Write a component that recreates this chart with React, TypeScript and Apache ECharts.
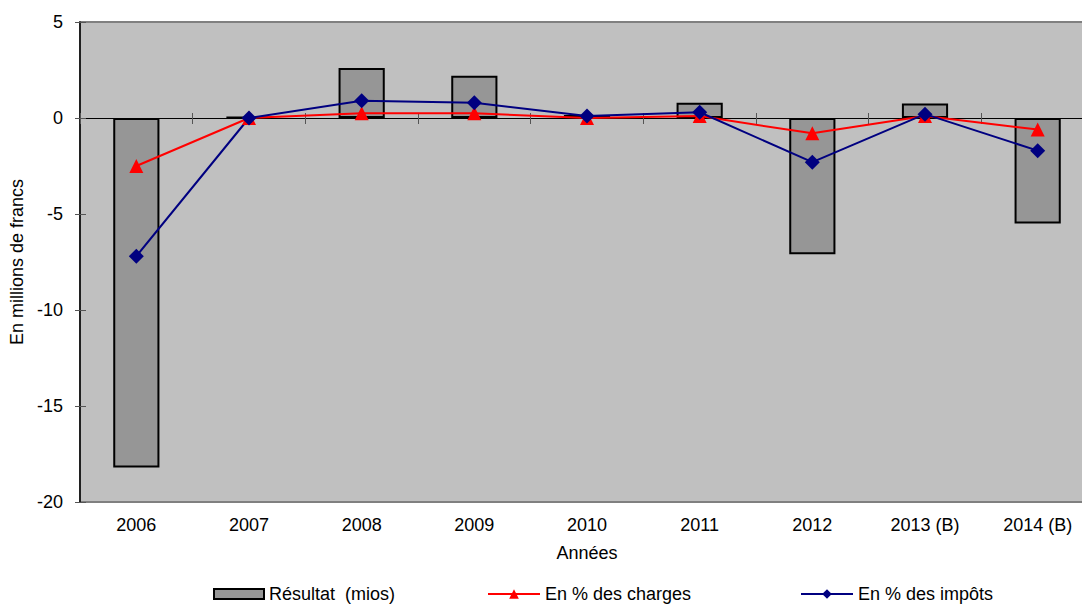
import React, { useEffect, useRef } from "react";
import * as echarts from "echarts";

const categories = ["2006", "2007", "2008", "2009", "2010", "2011", "2012", "2013 (B)", "2014 (B)"];
const resultat = [-18.2, 0.05, 2.6, 2.2, 0.15, 0.8, -7.1, 0.75, -5.5];
const pctCharges = [-2.5, 0, 0.25, 0.25, 0, 0.1, -0.8, 0.1, -0.6];
const pctImpots = [-7.2, 0, 0.9, 0.8, 0.1, 0.3, -2.3, 0.2, -1.7];
const yTicks = { min: -20, max: 5, interval: 5 };

const FONT = "'Liberation Sans', Arial, sans-serif";
const FS = 18;

export default function App() {
  const ref = useRef<HTMLDivElement>(null);
  useEffect(() => {
    if (!ref.current) return;
    const chart = echarts.init(ref.current, undefined, { renderer: "svg" });
    const legendText = { fontFamily: FONT, fontSize: FS, color: "#000" };
    const option: any = {
      animation: false,
      textStyle: { fontFamily: FONT },
      grid: {
        left: 80,
        right: -12,
        top: 22,
        bottom: 102,
        containLabel: false,
        outerBoundsMode: "none",
        show: true,
        backgroundColor: "#c0c0c0",
        borderColor: "#808080",
        borderWidth: 2,
      },
      legend: [
        { data: [{ name: "Résultat  (mios)", icon: "rect" }], left: 213, top: 585, itemWidth: 50, itemHeight: 10, itemGap: 0, textStyle: legendText, padding: 0 },
        { data: ["En % des charges"], left: 487, top: 585, itemWidth: 52, itemHeight: 12, itemGap: 0, textStyle: legendText, padding: 0 },
        { data: ["En % des impôts"], left: 800, top: 585, itemWidth: 52, itemHeight: 12, itemGap: 0, textStyle: legendText, padding: 0 },
      ],
      xAxis: [
        {
          type: "category",
          data: categories,
          position: "bottom",
          boundaryGap: true,
          axisLine: { onZero: false, show: false },
          axisTick: { show: false },
          axisLabel: { fontFamily: FONT, fontSize: FS, color: "#000", margin: 14 },
          name: "Années",
          nameLocation: "middle",
          nameGap: 42,
          nameTextStyle: { fontFamily: FONT, fontSize: FS, color: "#000" },
        },
        {
          type: "category",
          data: categories,
          position: "bottom",
          boundaryGap: true,
          axisLine: { onZero: true, onZeroAxisIndex: 0, lineStyle: { color: "#000", width: 1 } },
          axisTick: { show: true, length: 6, lineStyle: { color: "#555", width: 1 } },
          axisLabel: { show: false },
        },
        {
          type: "category",
          data: categories,
          position: "top",
          boundaryGap: true,
          axisLine: { onZero: true, onZeroAxisIndex: 0, lineStyle: { color: "#000", width: 1 } },
          axisTick: { show: true, length: 5, lineStyle: { color: "#555", width: 1 } },
          axisLabel: { show: false },
        },
      ],
      yAxis: [
        {
          type: "value",
          min: yTicks.min,
          max: yTicks.max,
          interval: yTicks.interval,
          position: "left",
          splitLine: { show: false },
          axisLine: { show: true, onZero: false, lineStyle: { color: "#000", width: 1.5 } },
          axisTick: { show: true, length: 5, lineStyle: { color: "#555" } },
          axisLabel: { fontFamily: FONT, fontSize: FS, color: "#000", margin: 17 },
          name: "En millions de francs",
          nameLocation: "middle",
          nameRotate: 90,
          nameGap: 54,
          nameTextStyle: { fontFamily: FONT, fontSize: FS, color: "#000" },
        },
        {
          type: "value",
          min: yTicks.min,
          max: yTicks.max,
          interval: yTicks.interval,
          position: "left",
          splitLine: { show: false },
          axisLine: { show: false, onZero: false },
          axisTick: { show: true, inside: true, length: 6, lineStyle: { color: "#555" } },
          axisLabel: { show: false },
        },
      ],
      series: [
        {
          name: "Résultat  (mios)",
          type: "bar",
          data: resultat,
          barWidth: "41%",
          itemStyle: { color: "#969696", borderColor: "#000", borderWidth: 2 },
        },
        {
          name: "En % des charges",
          type: "line",
          data: pctCharges,
          symbol: "triangle",
          symbolSize: 14,
          lineStyle: { color: "#ff0000", width: 2 },
          itemStyle: { color: "#ff0000" },
        },
        {
          name: "En % des impôts",
          type: "line",
          data: pctImpots,
          symbol: "diamond",
          symbolSize: 15,
          lineStyle: { color: "#000080", width: 2 },
          itemStyle: { color: "#000080" },
        },
      ],
    };
    chart.setOption(option);
    return () => chart.dispose();
  }, []);
  return (
    <div
      ref={ref}
      style={{ position: "fixed", left: 0, top: 0, width: 1082, height: 604, background: "#fff" }}
    />
  );
}
